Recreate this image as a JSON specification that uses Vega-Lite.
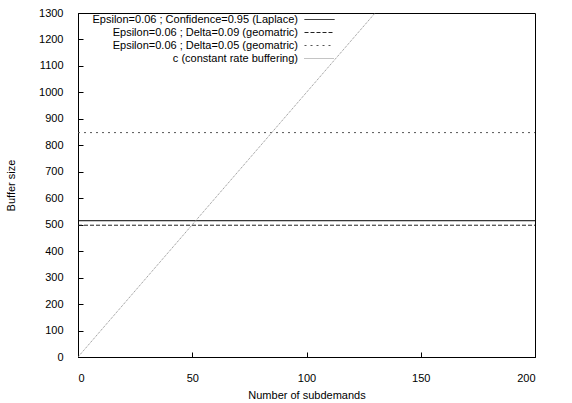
{
  "$schema": "https://vega.github.io/schema/vega-lite/v6.json",
  "width": 457,
  "height": 344,
  "autosize": {"type": "none"},
  "padding": {"left": 78, "top": 13, "right": 37, "bottom": 46},
  "background": "white",
  "config": {
    "font": "Liberation Sans",
    "view": {"stroke": "black", "strokeWidth": 1},
    "axis": {"grid": false, "domainColor": "black", "tickColor": "black", "labelColor": "black", "titleColor": "black", "labelFontSize": 11, "titleFontSize": 11, "titleFontWeight": "normal", "labelFont": "Liberation Sans", "titleFont": "Liberation Sans"}
  },
  "data": {"values": [
    {"series": "Epsilon=0.06 ; Confidence=0.95 (Laplace)", "x": 0, "y": 515},
    {"series": "Epsilon=0.06 ; Confidence=0.95 (Laplace)", "x": 200, "y": 515},
    {"series": "Epsilon=0.06 ; Delta=0.09 (geomatric)", "x": 0, "y": 498},
    {"series": "Epsilon=0.06 ; Delta=0.09 (geomatric)", "x": 200, "y": 498},
    {"series": "Epsilon=0.06 ; Delta=0.05 (geomatric)", "x": 0, "y": 848},
    {"series": "Epsilon=0.06 ; Delta=0.05 (geomatric)", "x": 200, "y": 848},
    {"series": "c (constant rate buffering)", "x": 0, "y": 0},
    {"series": "c (constant rate buffering)", "x": 200, "y": 2000}
  ]},
  "mark": {"type": "line", "clip": true, "strokeWidth": 1},
  "encoding": {
    "x": {"field": "x", "type": "quantitative", "scale": {"domain": [0, 200], "nice": false},
      "axis": {"values": [0, 50, 100, 150, 200], "tickSize": -5, "labelPadding": 20, "title": "Number of subdemands", "titlePadding": 6}},
    "y": {"field": "y", "type": "quantitative", "scale": {"domain": [0, 1300], "nice": false},
      "axis": {"values": [0, 100, 200, 300, 400, 500, 600, 700, 800, 900, 1000, 1100, 1200, 1300], "format": "d", "tickSize": -5, "labelPadding": 20, "title": "Buffer size", "titlePadding": 22}},
    "detail": {"field": "series"},
    "color": {"field": "series", "type": "nominal",
      "sort": ["Epsilon=0.06 ; Confidence=0.95 (Laplace)", "Epsilon=0.06 ; Delta=0.09 (geomatric)", "Epsilon=0.06 ; Delta=0.05 (geomatric)", "c (constant rate buffering)"],
      "scale": {"domain": ["Epsilon=0.06 ; Confidence=0.95 (Laplace)", "Epsilon=0.06 ; Delta=0.09 (geomatric)", "Epsilon=0.06 ; Delta=0.05 (geomatric)", "c (constant rate buffering)"], "range": ["#000000", "#222222", "#555555", "#888888"]},
      "legend": {"title": null, "orient": "none", "legendX": 235, "legendY": 0, "padding": 0, "symbolType": "M-2.5,0H2.5", "symbolSize": 144, "symbolStrokeWidth": 1, "labelAlign": "right", "labelOffset": -28, "labelFontSize": 11, "labelColor": "black", "rowPadding": 1, "labelLimit": 400}},
    "strokeDash": {"field": "series", "type": "nominal",
      "scale": {"domain": ["Epsilon=0.06 ; Confidence=0.95 (Laplace)", "Epsilon=0.06 ; Delta=0.09 (geomatric)", "Epsilon=0.06 ; Delta=0.05 (geomatric)", "c (constant rate buffering)"], "range": [[1, 0], [4, 2], [2, 4], [1, 1]]},
      "legend": null}
  }
}
